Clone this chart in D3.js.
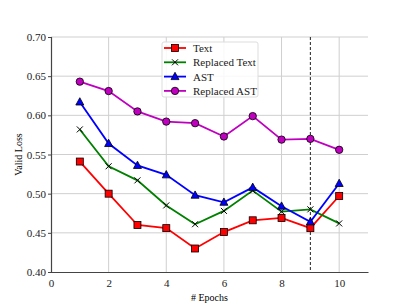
<!DOCTYPE html>
<html>
<head>
<meta charset="utf-8">
<script src="https://cdn.jsdelivr.net/npm/d3@7"></script>
<style>
  body { margin: 0; background: #fff; }
  svg text { font-family: "Liberation Serif", "DejaVu Serif", serif; }
</style>
</head>
<body>
<div id="chart"></div>
<script>
// data
const epochs = [1, 2, 3, 4, 5, 6, 7, 8, 9, 10];
const textLoss = [0.541, 0.500, 0.460, 0.456, 0.430, 0.451, 0.466, 0.469, 0.456, 0.497];
const replacedTextLoss = [0.582, 0.535, 0.517, 0.485, 0.461, 0.478, 0.504, 0.477, 0.480, 0.462];
const astLoss = [0.617, 0.564, 0.536, 0.524, 0.498, 0.489, 0.508, 0.484, 0.464, 0.513];
const replacedAstLoss = [0.643, 0.631, 0.605, 0.592, 0.590, 0.573, 0.599, 0.569, 0.570, 0.556];
const xTicks = [0, 2, 4, 6, 8, 10];
const yTicks = [0.40, 0.45, 0.50, 0.55, 0.60, 0.65, 0.70];
const markLine = 9;

const series = [
  { name: "Text", values: textLoss, color: "#ff0000", marker: "square" },
  { name: "Replaced Text", values: replacedTextLoss, color: "#008000", marker: "x" },
  { name: "AST", values: astLoss, color: "#0000ff", marker: "triangle" },
  { name: "Replaced AST", values: replacedAstLoss, color: "#bf00bf", marker: "circle" }
];

const W = 409, H = 306;
const MARGIN = { top: 37, right: 41, bottom: 34, left: 51 };
const innerW = W - MARGIN.left - MARGIN.right;
const innerH = H - MARGIN.top - MARGIN.bottom;

const svg = d3.select("#chart").append("svg")
  .attr("width", W).attr("height", H);
const g = svg.append("g").attr("transform", `translate(${MARGIN.left},${MARGIN.top})`);

const x = d3.scaleLinear().domain([0, 11]).range([0, innerW]);
const y = d3.scaleLinear().domain([0.40, 0.70]).range([innerH, 0]);

// grid
g.append("g").selectAll("line").data(yTicks.slice(1)).join("line")
  .attr("x1", 0).attr("x2", innerW)
  .attr("y1", d => y(d)).attr("y2", d => y(d))
  .attr("stroke", "#cfcfcf").attr("stroke-width", 1);
g.append("g").selectAll("line").data(xTicks.slice(1)).join("line")
  .attr("y1", 0).attr("y2", innerH)
  .attr("x1", d => x(d)).attr("x2", d => x(d))
  .attr("stroke", "#cfcfcf").attr("stroke-width", 1);

// axes
const xAxis = g.append("g").attr("transform", `translate(0,${innerH})`)
  .call(d3.axisBottom(x).tickValues(xTicks).tickSize(0).tickPadding(7));
const yAxis = g.append("g")
  .call(d3.axisLeft(y).tickValues(yTicks).tickFormat(d3.format(".2f")).tickSize(3).tickPadding(2));
[xAxis, yAxis].forEach(a => {
  a.select(".domain").attr("stroke", "#444").attr("stroke-width", 1.2);
  a.selectAll(".tick line").attr("stroke", "#444");
  a.selectAll("text").attr("font-size", 11).attr("fill", "#222")
    .attr("font-family", '"Liberation Serif", serif');
});

// dashed marker line
g.append("line")
  .attr("x1", x(markLine)).attr("x2", x(markLine))
  .attr("y1", 0).attr("y2", innerH)
  .attr("stroke", "#222").attr("stroke-width", 1).attr("stroke-dasharray", "3,2");

function drawMarker(sel, type, color) {
  if (type === "square") {
    sel.append("rect").attr("x", -3.5).attr("y", -3.5).attr("width", 7).attr("height", 7)
      .attr("fill", color).attr("stroke", "#000").attr("stroke-width", 0.8);
  } else if (type === "circle") {
    sel.append("circle").attr("r", 3.7)
      .attr("fill", color).attr("stroke", "#000").attr("stroke-width", 0.8);
  } else if (type === "triangle") {
    sel.append("path").attr("d", "M0,-4.3L4,3L-4,3Z")
      .attr("fill", color).attr("stroke", "#000").attr("stroke-width", 0.8);
  } else {
    sel.append("path").attr("d", "M-3,-3L3,3M-3,3L3,-3")
      .attr("stroke", "#000").attr("stroke-width", 1);
  }
}

const line = d3.line().x(d => x(d[0])).y(d => y(d[1]));

series.forEach(s => {
  const pts = epochs.map((e, i) => [e, s.values[i]]);
  g.append("path").datum(pts)
    .attr("d", line).attr("fill", "none")
    .attr("stroke", s.color).attr("stroke-width", 1.8);
  g.append("g").selectAll("g").data(pts).join("g")
    .attr("transform", d => `translate(${x(d[0])},${y(d[1])})`)
    .each(function() { drawMarker(d3.select(this), s.marker, s.color); });
});

// legend
const leg = svg.append("g").attr("transform", "translate(162,42)");
leg.append("rect").attr("width", 96).attr("height", 55)
  .attr("fill", "#fff").attr("fill-opacity", 0.85)
  .attr("stroke", "#ddd").attr("rx", 2);
series.forEach((s, i) => {
  const row = leg.append("g").attr("transform", `translate(0,${6 + i * 14.3})`);
  row.append("line").attr("x1", 2).attr("x2", 24).attr("y1", 0).attr("y2", 0)
    .attr("stroke", s.color).attr("stroke-width", 1.8);
  drawMarker(row.append("g").attr("transform", "translate(13,0)"), s.marker, s.color);
  row.append("text").attr("x", 31).attr("y", 4).attr("font-size", 11)
    .attr("fill", "#222").text(s.name);
});

// axis labels
svg.append("text").attr("x", MARGIN.left + innerW / 2).attr("y", 301)
  .attr("text-anchor", "middle").attr("font-size", 10).attr("fill", "#000").text("# Epochs");
svg.append("text").attr("transform", `translate(22,${MARGIN.top + innerH / 2}) rotate(-90)`)
  .attr("text-anchor", "middle").attr("font-size", 10).attr("fill", "#000").text("Valid Loss");
</script>
</body>
</html>
